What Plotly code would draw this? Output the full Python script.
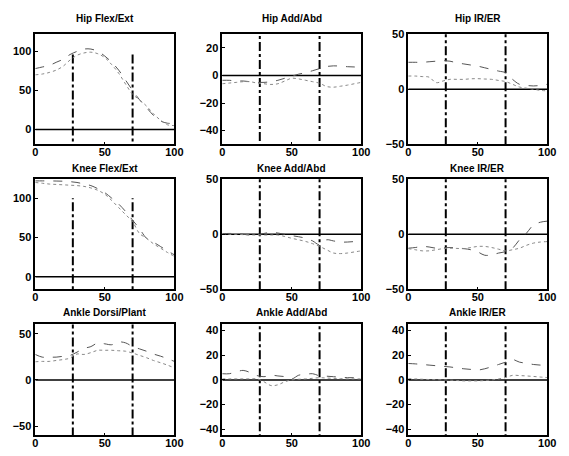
import plotly.graph_objects as go

# Gait cycle (% stance) sample points
pct = [0, 5, 10, 15, 20, 25, 30, 35, 40, 45, 50, 55, 60, 65, 70, 75, 80, 85, 90, 95, 100]

# Event markers (% of cycle)
events = [27, 70]

titles = ["Hip Flex/Ext", "Hip Add/Abd", "Hip IR/ER",
          "Knee Flex/Ext", "Knee Add/Abd", "Knee IR/ER",
          "Ankle Dorsi/Plant", "Ankle Add/Abd", "Ankle IR/ER"]

# Joint angles (deg), two trials per joint
hip_flex_a = [78, 80, 82, 86, 90, 96, 100, 103, 103, 100, 94, 86, 76, 63, 50, 38, 28, 18, 11, 8, 8]
hip_flex_b = [70, 71, 73, 76, 81, 89, 95, 98, 99, 97, 92, 83, 72, 58, 45, 38, 30, 20, 12, 6, 5]
hip_add_a = [-3.5, -3.5, -4, -4, -4.5, -5, -5, -4.5, -3.5, -2, -0.5, 1, 2, 3.5, 5, 6.5, 7, 6.8, 6.4, 6.2, 6]
hip_add_b = [-6, -5.5, -5, -4.5, -4.5, -5.5, -6, -6.5, -6, -4, -2, -2.5, -3.5, -4.5, -5.6, -8, -8.5, -7.8, -7, -6, -5]
hip_rot_a = [24.5, 24.5, 24.5, 25, 25.5, 26, 25.5, 24, 23, 22, 21, 19.5, 18, 16.5, 15, 9, 4.5, 3.5, 3, 3.5, 4.5]
hip_rot_b = [12, 12, 11.5, 11, 6, 7.5, 9, 9, 9, 9.5, 9.6, 9.3, 9, 8, 7, 4.5, 2, 1, 0, -1, -1.5]
knee_flex_a = [122, 122, 122, 121.8, 121.6, 121, 120, 118, 116, 112, 107, 100, 92.5, 83, 72, 61, 49, 44, 38.6, 33, 28]
knee_flex_b = [120, 119, 118, 117.5, 117, 116.5, 116, 115, 113, 110, 105, 97, 88, 79, 70, 55, 49, 42, 36.5, 31, 26]
knee_add_a = [0.6, 0.8, 0.6, 0, -0.6, -0.3, 0.8, 1.8, 1.2, 0, -1.2, -2.2, -3.6, -6, -9.5, -5, -6, -7, -7, -6.5, -5]
knee_add_b = [0, 0, 0, -0.3, -0.5, -0.6, -0.6, -0.6, -0.6, -2, -3.6, -5, -6.5, -8.5, -11, -14, -17, -17.5, -17, -16, -15]
knee_rot_a = [-12.6, -12, -11, -11.5, -12.6, -12.3, -12, -12.3, -13, -14, -16, -19, -18.7, -17, -15.7, -12.6, -5, 1, 8.4, 11, 12]
knee_rot_b = [-13, -14, -15, -15, -14, -13, -12.6, -12.8, -13, -12, -11, -11, -12, -13.5, -15, -14, -12.6, -10, -8, -7, -6.6]
ankle_df_a = [27.5, 24.6, 24.6, 24.6, 25.5, 26.5, 30, 34, 36, 40, 39, 38, 41, 40, 36, 33.5, 31, 28, 25.7, 23, 20]
ankle_df_b = [19.6, 20, 20, 21, 22, 23.5, 28, 27.5, 29.5, 32, 32, 32, 31.5, 31, 29, 26.5, 24, 21, 18.6, 16, 13]
ankle_add_a = [5, 5, 6.5, 7.7, 6, 3.5, 2.6, 3.8, 3.2, 2.6, 0.8, 3.8, 4.5, 5, 3.3, 3, 2.6, 2.2, 1.8, 1.8, 1.8]
ankle_add_b = [0.8, 0.8, 0.8, 0.8, 0.8, 0.8, -1.5, -4.6, -4, -1.5, 0, 0.5, 0.8, 1.3, 1.8, 1.5, 1.3, 1, 0.8, 0.8, 0.8]
ankle_rot_a = [13.3, 13, 12.5, 12, 11.5, 11, 10.5, 9.7, 9, 8.5, 8, 9, 10.7, 12.5, 14.4, 16.5, 14.4, 13.5, 12.5, 12, 11.7]
ankle_rot_b = [1, 0.8, 0.5, 0.3, 0.2, 0, -0.2, -0.5, -0.8, -0.8, -0.8, -0.5, 0, 0.8, 1.9, 3.7, 3.5, 3.2, 2.8, 2.3, 1.9]

series = [(hip_flex_a, hip_flex_b), (hip_add_a, hip_add_b), (hip_rot_a, hip_rot_b),
          (knee_flex_a, knee_flex_b), (knee_add_a, knee_add_b), (knee_rot_a, knee_rot_b),
          (ankle_df_a, ankle_df_b), (ankle_add_a, ankle_add_b), (ankle_rot_a, ankle_rot_b)]

y_ranges = [[-19, 122], [-50, 30], [-50, 50],
            [-16, 124], [-50, 50], [-50, 50],
            [-60, 60], [-45, 45], [-45, 45]]
y_ticks = [[0, 50, 100], [-40, -20, 0, 20], [-50, 0, 50],
           [0, 50, 100], [-50, 0, 50], [-50, 0, 50],
           [-50, 0, 50], [-40, -20, 0, 20, 40], [-40, -20, 0, 20, 40]]

W, H = 569, 456
col_px = [(33, 175), (224, 366), (414, 556)]
row_px = [(29, 142), (178, 291), (327, 441)]
title_y_px = [13, 167, 315]

fig = go.Figure()
font_fam = "Liberation Sans, Arial, sans-serif"

for i in range(9):
    r, c = divmod(i, 3)
    n = "" if i == 0 else str(i + 1)
    xa, ya = "x" + n, "y" + n
    a, b = series[i]
    # zero reference line
    fig.add_trace(go.Scatter(x=[0, 100], y=[0, 0], mode="lines",
                             line=dict(color="black", width=1.5),
                             xaxis=xa, yaxis=ya, showlegend=False, hoverinfo="skip"))
    # event lines
    ex, ey = [], []
    for e in events:
        ex += [e, e, None]
        ey += [-100, 100, None]
    fig.add_trace(go.Scatter(x=ex, y=ey, mode="lines",
                             line=dict(color="black", width=2, dash="dashdot"),
                             xaxis=xa, yaxis=ya, showlegend=False, hoverinfo="skip"))
    fig.add_trace(go.Scatter(x=pct, y=a, mode="lines", line_shape="spline",
                             line=dict(color="#555555", width=1, dash="dash"),
                             xaxis=xa, yaxis=ya, showlegend=False))
    fig.add_trace(go.Scatter(x=pct, y=b, mode="lines", line_shape="spline",
                             line=dict(color="#888888", width=1, dash="dot"),
                             xaxis=xa, yaxis=ya, showlegend=False))

    x0, x1 = col_px[c]
    y0, y1 = row_px[r]
    common = dict(showline=True, linecolor="black", linewidth=1.5, mirror=True,
                  showgrid=False, zeroline=False, ticks="inside", ticklen=3,
                  tickcolor="black",
                  tickfont=dict(family=font_fam, size=11, color="black", weight="bold"))
    fig.layout["xaxis" + n] = dict(domain=[x0 / W, x1 / W], anchor=ya,
                                  range=[0, 100], tickvals=[0, 50, 100],
                                  ticklabelstandoff=-3, **common)
    fig.layout["yaxis" + n] = dict(domain=[1 - y1 / H, 1 - y0 / H], anchor=xa,
                                  range=y_ranges[i], tickvals=y_ticks[i], **common)
    fig.add_annotation(text=titles[i], xref="paper", yref="paper",
                       x=(x0 + x1) / 2 / W, y=1 - title_y_px[r] / H,
                       showarrow=False, xanchor="center", yanchor="middle",
                       font=dict(family=font_fam, size=10, color="black", weight="bold"))

fig.update_layout(width=W, height=H, margin=dict(l=0, r=0, t=0, b=0),
                  plot_bgcolor="white", paper_bgcolor="white")
fig.write_html("out.html")
